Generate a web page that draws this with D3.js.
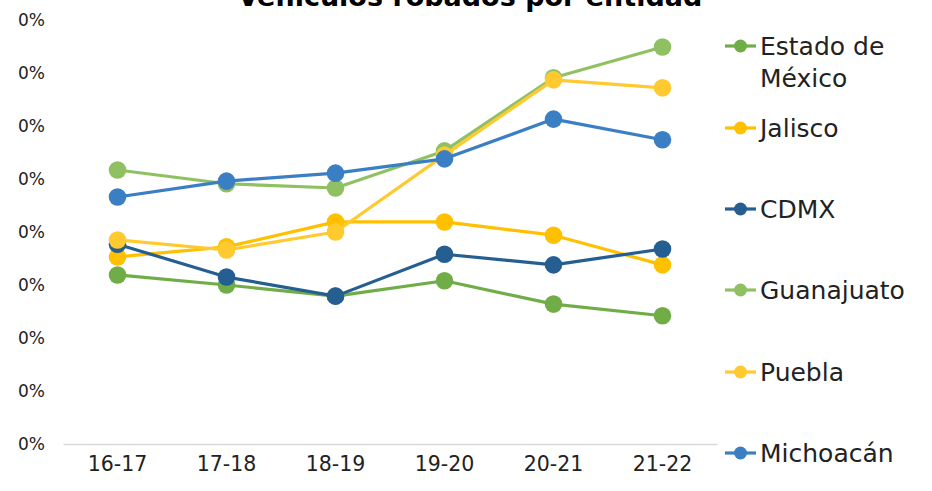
<!DOCTYPE html>
<html><head><meta charset="utf-8">
<script src="https://cdn.jsdelivr.net/npm/d3@7"></script>
<style>html,body{margin:0;padding:0;background:#fff;}svg{display:block;}</style>
</head><body>
<svg id="c" width="932" height="491"></svg>
<script>
const title = "Vehículos robados por entidad";
const categories = ["16-17","17-18","18-19","19-20","20-21","21-22"];
const seriesNames = ["Estado de México","Jalisco","CDMX","Guanajuato","Puebla","Michoacán"];
const estadoMexico = [3.19, 3.00, 2.79, 3.08, 2.64, 2.42];
const jalisco      = [3.53, 3.72, 4.19, 4.19, 3.94, 3.38];
const cdmx         = [3.77, 3.15, 2.79, 3.58, 3.38, 3.68];
const guanajuato   = [5.17, 4.91, 4.83, 5.53, 6.91, 7.49];
const puebla       = [3.85, 3.66, 4.00, 5.45, 6.87, 6.72];
const michoacan    = [4.66, 4.96, 5.11, 5.38, 6.13, 5.74];
const yTicks = [0,1,2,3,4,5,6,7,8];
const yTickLabels = ["0%","0%","0%","0%","0%","0%","0%","0%","0%"];
const colors = ["#70AD47","#FFC000","#255E91","#8FC163","#FFCA2F","#3A7EC4"];

const seriesValues = [estadoMexico, jalisco, cdmx, guanajuato, puebla, michoacan];
const svg = d3.select("#c");
const font = "'DejaVu Sans', sans-serif";

const x = d3.scaleBand().domain(categories).range([63, 717]);
const y = d3.scaleLinear().domain([0, 8]).range([444, 20]);

// title (clipped at top like the reference)
svg.append("text").attr("x", 470).attr("y", 6).attr("text-anchor","middle")
  .attr("font-family", font).attr("font-weight","bold").attr("font-size", 27)
  .attr("fill","#000").text(title);

// y axis labels
const yAxis = d3.axisLeft(y).tickValues(yTicks).tickFormat((d,i)=>yTickLabels[i]).tickSize(0).tickPadding(0);
const ya = svg.append("g").attr("transform","translate(45,0)").call(yAxis);
ya.select(".domain").remove();
ya.selectAll("text").attr("font-family", font).attr("font-size", 17).attr("fill","#222");

// x axis
const xAxis = d3.axisBottom(x).tickSize(0).tickPadding(0);
const xa = svg.append("g").attr("transform","translate(0,"+y(0)+")").call(xAxis);
xa.select(".domain").attr("stroke","#d9d9d9").attr("stroke-width",1.3);
xa.selectAll("text").attr("font-family", font).attr("font-size", 20.5).attr("fill","#222").attr("dy","1.3em");

const cx = c => x(c) + x.bandwidth()/2;
const line = d3.line().x((d,i)=>cx(categories[i])).y(d=>y(d));

seriesValues.forEach((vals, s) => {
  const g = svg.append("g");
  g.append("path").datum(vals).attr("d", line).attr("fill","none")
    .attr("stroke", colors[s]).attr("stroke-width", 3.2).attr("stroke-linejoin","round");
  g.selectAll("circle").data(vals).join("circle")
    .attr("cx",(d,i)=>cx(categories[i])).attr("cy", d=>y(d)).attr("r", 8.8)
    .attr("fill", colors[s]);
});

// legend
const legendY = [46, 128, 209, 290, 372, 453];
const lg = svg.append("g");
seriesNames.forEach((name, i) => {
  const gy = legendY[i];
  lg.append("line").attr("x1",725).attr("x2",756).attr("y1",gy).attr("y2",gy)
    .attr("stroke", colors[i]).attr("stroke-width",3.2);
  lg.append("circle").attr("cx",740.5).attr("cy",gy).attr("r",6.5).attr("fill",colors[i]);
  const t = lg.append("text").attr("x",760).attr("y",gy).attr("dy","0.36em")
    .attr("font-family", font).attr("font-size", 25).attr("fill","#222");
  if (name === "Estado de México") {
    t.append("tspan").attr("x",760).text("Estado de");
    t.append("tspan").attr("x",760).attr("dy", 32).text("México");
  } else t.text(name);
});
</script>
</body></html>
